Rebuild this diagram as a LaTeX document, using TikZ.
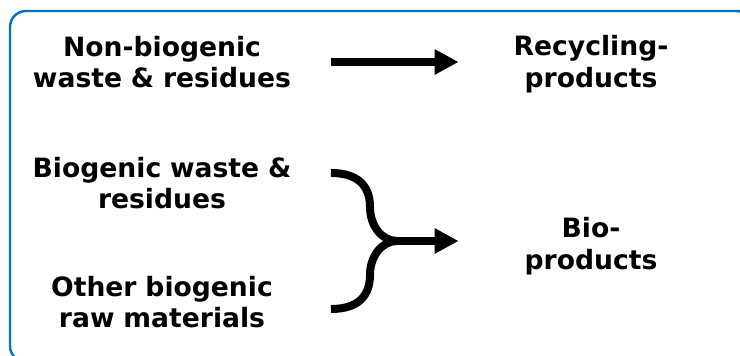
\documentclass[tikz,border=0pt]{standalone}
\usepackage{fontspec}
\setmainfont{DejaVu Sans}
\usepackage{xcolor}
\usetikzlibrary{arrows.meta,positioning}
\definecolor{framblue}{RGB}{0,112,192}

\begin{document}
\begin{tikzpicture}[x=0.5pt, y=-0.5pt, every node/.style={font=\bfseries\fontsize{13.3pt}{15.8pt}\selectfont}]
  \tikzset{
    source/.style={inner sep=0pt, text width=130pt, align=center},
    target/.style={inner sep=0pt, text width=80pt, align=center},
    bar/.style={line width=4pt, black},
    flow/.style={bar, -{Triangle[length=12pt, width=12pt]}}
  }
  \useasboundingbox (0,0) rectangle (740,356);

  % Frame (cut off at right and bottom)
  \draw[framblue, line width=1.2pt, rounded corners=8pt] (10,11) rectangle (752,362);

  % Left column: inputs
  \node[source] (nonbio) at (162,62)  {Non-biogenic\\ waste \& residues};
  \node[source] (bio)    at (162,183) {Biogenic waste \&\\ residues};
  \node[source] (other)  at (162,302) {Other biogenic\\ raw materials};

  % Right column: outputs
  \node[target] (recyc)   at (591,64)  {Recycling-\\ products};
  \node[target] (bioprod) at (591,246) {Bio-\\ products};

  % Top arrow
  \draw[flow, shorten <=19.5pt, shorten >=26pt] (nonbio.east) -- (recyc.west |- nonbio.east);

  % Merging arrow
  \coordinate (upin)  at (331,173);
  \coordinate (lowin) at (331,309);
  \coordinate (join)  at (397,241);
  \draw[bar] (upin) .. controls (362,173) and (370,190) .. (370,207)
             .. controls (370,226) and (382,241) .. (join);
  \draw[bar] (lowin) .. controls (362,309) and (370,292) .. (370,275)
             .. controls (370,256) and (382,241) .. (join);
  \draw[flow, shorten >=26pt] (join) -- (join -| bioprod.west);
\end{tikzpicture}
\end{document}
